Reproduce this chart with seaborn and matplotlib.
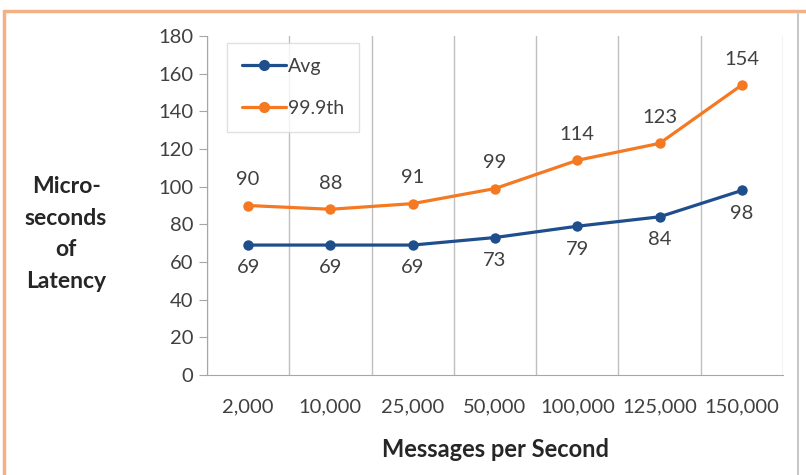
import numpy as np
import pandas as pd
import matplotlib
matplotlib.use("Agg")
import matplotlib.pyplot as plt
from matplotlib.lines import Line2D
import seaborn as sns

# Chart values
categories = ["2,000", "10,000", "25,000", "50,000", "100,000", "125,000", "150,000"]
avg_values = [69, 69, 69, 73, 79, 84, 98]
p999_values = [90, 88, 91, 99, 114, 123, 154]

avg_color = "#1F4E8C"
p999_color = "#F47920"

sns.set_style("white")
plt.rcParams['font.family'] = ['Lato', 'DejaVu Sans']

df = pd.DataFrame({
    "pos": list(range(len(categories))) * 2,
    "value": avg_values + p999_values,
    "series": ["Avg"] * len(categories) + ["99.9th"] * len(categories),
})

fig = plt.figure(figsize=(8.06, 4.75), dpi=100)
ax = fig.add_axes([0.2568, 0.2105, 0.9715 - 0.2568, 0.9242 - 0.2105])

sns.lineplot(data=df, x="pos", y="value", hue="series",
             palette={"Avg": avg_color, "99.9th": p999_color},
             marker="o", markersize=7.5, markeredgewidth=0, linewidth=2.3, ax=ax)

# data labels
for i, v in enumerate(avg_values):
    ax.annotate(str(v), (i, v), xytext=(0, -16.5), textcoords="offset points",
                ha="center", va="center", fontsize=14.5, color="#404040")
for i, v in enumerate(p999_values):
    ax.annotate(str(v), (i, v), xytext=(0, 18.5), textcoords="offset points",
                ha="center", va="center", fontsize=14.5, color="#404040")

ax.set_xlim(-0.5, len(categories) - 0.5)
ax.set_ylim(0, 180)
ax.set_yticks(np.arange(0, 181, 20))
ax.set_xticks(range(len(categories)))
ax.set_xticklabels(categories)
ax.set_xticks(np.arange(-0.5, len(categories), 1), minor=True)
ax.grid(True, which="minor", axis="x", color="#BFBFBF", linewidth=1)
ax.grid(False, which="major")
ax.tick_params(axis="y", which="major", length=6, color="#A6A6A6", labelsize=14.5,
               labelcolor="#404040", pad=4, left=True)
ax.tick_params(axis="x", which="major", length=0, labelsize=14.5,
               labelcolor="#404040", pad=17)
ax.tick_params(axis="x", which="minor", length=0)

for side in ["top", "right"]:
    ax.spines[side].set_visible(False)
ax.spines["left"].set_color("#A6A6A6")
ax.spines["bottom"].set_color("#A6A6A6")

ax.set_xlabel("Messages per Second", fontsize=17, fontweight="bold", color="#262626", labelpad=16)
ax.set_ylabel("")
fig.text(66 / 806, 1 - 234 / 475, "Micro-\nseconds\nof\nLatency", ha="center", va="center",
         fontsize=16.5, fontweight="bold", color="#262626", linespacing=1.62)

handles = [Line2D([0], [0], color=avg_color, marker="o", markersize=7, linewidth=2.3),
           Line2D([0], [0], color=p999_color, marker="o", markersize=7, linewidth=2.3)]
leg = ax.legend(handles, ["Avg", "99.9th"], loc="upper left", bbox_to_anchor=(0.035, 0.979),
                borderaxespad=0, fontsize=14, frameon=True, fancybox=False, handlelength=2.3,
                handletextpad=0.1, labelspacing=1.3, borderpad=0.75, labelcolor="#404040")
leg.get_frame().set_edgecolor("#D9D9D9")
leg.get_frame().set_linewidth(1)

# outer frame
fig.add_artist(Line2D([4 / 806, 4 / 806], [0, 1 - 11 / 475], color="#F4B183", linewidth=2.5,
                      transform=fig.transFigure))
fig.add_artist(Line2D([4 / 806, 1], [1 - 11 / 475, 1 - 11 / 475], color="#F4B183", linewidth=2.5,
                      transform=fig.transFigure))
fig.add_artist(Line2D([798 / 806, 798 / 806], [0, 1 - 13 / 475], color="#C8C8C8", linewidth=1.5,
                      transform=fig.transFigure))

fig.savefig("out.png", dpi=100)
